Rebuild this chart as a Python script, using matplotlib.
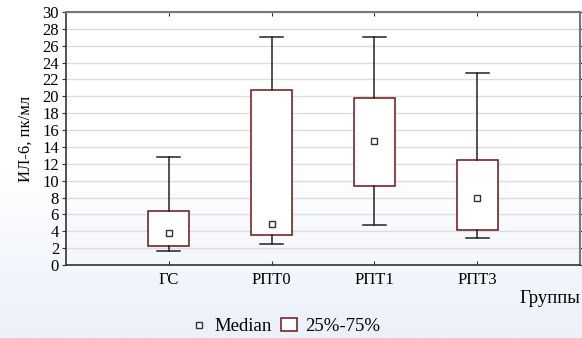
import numpy as np
import matplotlib.pyplot as plt
from matplotlib.colors import LinearSegmentedColormap
from matplotlib.lines import Line2D
from matplotlib.patches import Patch

plt.rcParams['font.family'] = ['Liberation Serif', 'DejaVu Serif']

groups = ['ГС', 'РПТ0', 'РПТ1', 'РПТ3']
medians = [3.8, 4.9, 14.7, 8.0]
q25 = [2.2, 3.5, 9.4, 4.1]
q75 = [6.4, 20.7, 19.8, 12.4]
lows = [1.7, 2.5, 4.7, 3.2]
highs = [12.8, 27.0, 27.0, 22.8]

box_edge = '#6a1416'

fig = plt.figure(figsize=(5.82, 3.38), dpi=100)

# soft vertical gradient behind everything
bg = fig.add_axes([0, 0, 1, 1], zorder=-10)
grad = np.linspace(0, 1, 256).reshape(-1, 1)
cmap = LinearSegmentedColormap.from_list('bg', [(0, '#ebf0f9'), (0.5, '#ffffff'), (1, '#ffffff')])
bg.imshow(grad, aspect='auto', cmap=cmap, origin='lower', extent=[0, 1, 0, 1])
bg.axis('off')

ax = fig.add_axes([0.1134, 0.216, 0.8832, 0.7485])
ax.patch.set_alpha(0)

stats = []
for g, m, lo25, hi75, lo, hi in zip(groups, medians, q25, q75, lows, highs):
    stats.append(dict(label=g, med=m, q1=lo25, q3=hi75, whislo=lo, whishi=hi))

pos = np.arange(1, len(groups) + 1)
ax.bxp(stats, positions=pos, widths=0.4, capwidths=0.22, showfliers=False,
       patch_artist=True,
       boxprops=dict(facecolor='white', edgecolor=box_edge, linewidth=1.1),
       whiskerprops=dict(color='#222222', linewidth=1.1),
       capprops=dict(color='#222222', linewidth=1.1),
       medianprops=dict(visible=False))
ax.plot(pos, medians, ls='none', marker='s', ms=4, mfc='white', mec='#333333',
        mew=1.0, zorder=5)

ax.set_xlim(0, 5)
ax.set_ylim(0, 30)
ax.set_yticks(np.arange(0, 31, 2))
ax.set_xticks(pos)
ax.set_xticklabels(groups)
ax.tick_params(labelsize=12, length=3, color='#333333')
ax.tick_params(axis='x', direction='in', top=True, pad=5)
ax.tick_params(axis='y', direction='out', right=True, pad=2)
ax.yaxis.grid(True, color='#dddddd', linewidth=1.0)
ax.set_axisbelow(True)
for side in ['left', 'bottom']:
    ax.spines[side].set_color('#333333')
    ax.spines[side].set_linewidth(1.2)
for side in ['top', 'right']:
    ax.spines[side].set_color('#777777')
    ax.spines[side].set_linewidth(1.5)

ax.set_ylabel('ИЛ-6, пк/мл', fontsize=12, labelpad=6)
fig.text(0.997, 0.118, 'Группы', fontsize=13.5, ha='right', va='center')

handles = [Line2D([], [], ls='none', marker='s', ms=4, mfc='white', mec='#333333'),
           Patch(facecolor='white', edgecolor=box_edge, linewidth=1.1)]
fig.legend(handles, ['Median', '25%-75%'], loc='center', bbox_to_anchor=(0.49, 0.033),
           ncol=2, frameon=False, fontsize=13.5, handlelength=0.9, handletextpad=0.4,
           columnspacing=0.45, borderpad=0)

fig.savefig('out.png', dpi=100)
